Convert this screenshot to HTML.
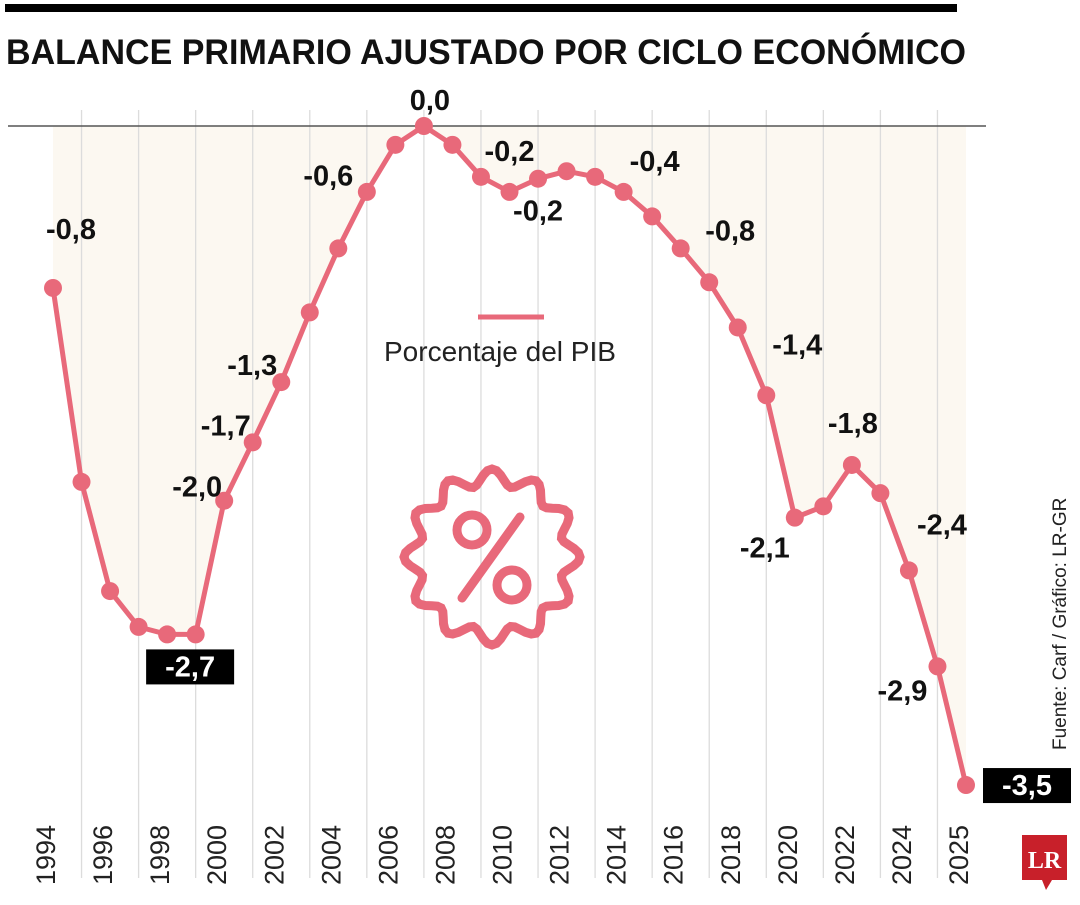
<!DOCTYPE html>
<html><head><meta charset="utf-8"><style>
body{margin:0;background:#fff;width:1080px;height:900px;overflow:hidden;font-family:"Liberation Sans",sans-serif}
</style></head><body>
<svg width="1080" height="900" xmlns="http://www.w3.org/2000/svg">
<rect x="5" y="4" width="952" height="8" fill="#000"/>
<text x="6" y="64" font-size="35" font-weight="bold" fill="#111" textLength="960" lengthAdjust="spacingAndGlyphs">BALANCE PRIMARIO AJUSTADO POR CICLO ECONÓMICO</text>
<g id="area"></g><g id="grid"></g>
<line x1="8" y1="126" x2="986" y2="126" stroke="#555" stroke-width="1.5"/>
<g id="xlabels"></g>
<g id="series"></g>
<g id="labels"></g>
<line x1="478" y1="317" x2="544" y2="317" stroke="#e8697a" stroke-width="5"/>
<text x="384" y="361" font-size="28" fill="#222">Porcentaje del PIB</text>
<g fill="none" stroke="#e8697a" stroke-width="9">
<path id="badge" d=""/>
<circle cx="472" cy="530" r="15"/><circle cx="512" cy="585" r="15"/>
<line x1="520" y1="517" x2="462" y2="598" stroke-linecap="round"/>
</g>
<text transform="translate(1066,750) rotate(-90)" font-size="19" fill="#222">Fuente: Carf / Gráfico: LR-GR</text>
<g>
<rect x="1022" y="835" width="45" height="45" fill="#c8202a"/><path d="M1042 880 L1046 890 L1052 880Z" fill="#c8202a"/>
<text x="1044.5" y="868" font-size="24" font-weight="bold" fill="#fff" text-anchor="middle" font-family="Liberation Serif,serif">LR</text></g>
</svg>
<script>
const years=["1994","1995","1996","1997","1998","1999","2000","2001","2002","2003","2004","2005","2006","2007","2008","2009","2010","2011","2012","2013","2014","2015","2016","2017","2018","2019","2020","2021","2022","2023","2024","2024b","2025"];
const values=[-0.86,-1.89,-2.47,-2.66,-2.7,-2.7,-1.99,-1.68,-1.36,-0.99,-0.65,-0.35,-0.1,0,-0.1,-0.27,-0.35,-0.28,-0.24,-0.27,-0.35,-0.48,-0.65,-0.83,-1.07,-1.43,-2.08,-2.02,-1.8,-1.95,-2.36,-2.87,-3.5];
const tickLabels=["1994","1996","1998","2000","2002","2004","2006","2008","2010","2012","2014","2016","2018","2020","2022","2024","2025"];
const tickIdx=[0,2,4,6,8,10,12,14,16,18,20,22,24,26,28,30,32];
const labelIdx=[0,4,6,7,8,10,13,16,17,20,23,25,26,28,30,31,32];
const labelText=["-0,8","-2,7","-2,0","-1,7","-1,3","-0,6","0,0","-0,2","-0,2","-0,4","-0,8","-1,4","-2,1","-1,8","-2,4","-2,9","-3,5"];
const labelOff=[[18,-59,"middle"],[23,32,"middle"],[-2,-14,"end"],[-2,-17,"end"],[-4,-17,"end"],[15,-73,"end"],[6,-26,"middle"],[0,-41,"middle"],[0,32,"middle"],[31,-31,"middle"],[21,-52,"middle"],[31,-51,"middle"],[-30,30,"middle"],[1,-42,"middle"],[33,-46,"middle"],[-35,24,"middle"],[61,0,"middle"]];
const boxed=[1,16];
const NS="http://www.w3.org/2000/svg";
const x=i=>53+i*(913/(years.length-1));
const y=v=>126-v*188.3;
function mk(t,a,p){const e=document.createElementNS(NS,t);for(const k in a)e.setAttribute(k,a[k]);p.appendChild(e);return e;}
const area=document.getElementById('area');
let d="M"+x(0)+" "+y(0);values.forEach((v,i)=>d+=" L"+x(i)+" "+y(v));d+=" L"+x(values.length-1)+" "+y(0)+"Z";
const ar=mk('path',{d:d,fill:"#fcf8f1"},area);


const grid=document.getElementById('grid');
for(let i=1;i<years.length;i+=2){const g=mk('line',{x1:x(i),x2:x(i),y1:110,y2:878,stroke:"#dcdcdc","stroke-width":1.3},grid);

}
const xl=document.getElementById('xlabels');
tickIdx.forEach((ix,k)=>{const t=mk('text',{transform:`translate(${x(ix)+2},885) rotate(-90)`,"font-size":27,fill:"#222"},xl);t.textContent=tickLabels[k];

});
const s=document.getElementById('series');
const pl=mk('polyline',{points:values.map((v,i)=>x(i)+","+y(v)).join(" "),fill:"none",stroke:"#e8697a","stroke-width":5,"stroke-linejoin":"round"},s);


values.forEach((v,i)=>{const c=mk('circle',{cx:x(i),cy:y(v),r:9,fill:"#e8697a"},s);

});
const L=document.getElementById('labels');
labelIdx.forEach((ix,k)=>{const o=labelOff[k];const lx=x(ix)+o[0],ly=y(values[ix])+o[1]+10;
if(boxed.includes(k)){const r=mk('rect',{x:lx-44,y:ly-27,width:88,height:35,fill:"#000"},L);

}
const t=mk('text',{x:lx,y:ly,"font-size":29,"font-weight":"bold",fill:boxed.includes(k)?"#fff":"#111","text-anchor":o[2]},L);t.textContent=labelText[k];

});
let b="";const cx=492,cy=557;for(let a=0;a<=360;a+=3){const r=80+8*Math.cos(a*Math.PI/180*12);const px=cx+r*Math.cos(a*Math.PI/180),py=cy+r*Math.sin(a*Math.PI/180);b+=(a?"L":"M")+px.toFixed(1)+" "+py.toFixed(1);}
document.getElementById('badge').setAttribute('d',b+"Z");
</script>
</body></html>
